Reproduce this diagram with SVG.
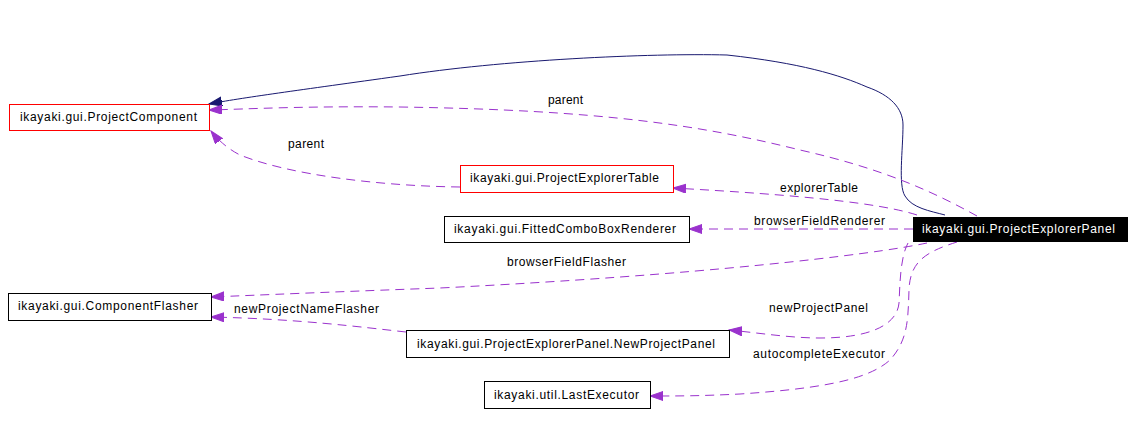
<svg xmlns="http://www.w3.org/2000/svg" width="1135" height="426" viewBox="0 0 1135 426">
<style>
text{font-family:"Liberation Sans",Arial,sans-serif;font-size:12px;fill:#000}
.box{fill:#fff;stroke:#000;stroke-width:1}
.red{stroke:#ff0000}
.dep{fill:none;stroke:#9a32cd;stroke-width:1;stroke-dasharray:9,6;marker-end:url(#pa)}
.inh{fill:none;stroke:#191970;stroke-width:1;marker-end:url(#na)}
</style>
<defs>
<marker id="pa" markerUnits="userSpaceOnUse" markerWidth="14" markerHeight="10" refX="13" refY="4.5" orient="auto"><path d="M0,0 L13,4.5 L0,9 z" fill="#9a32cd" stroke="#9a32cd"/></marker>
<marker id="na" markerUnits="userSpaceOnUse" markerWidth="14" markerHeight="10" refX="13" refY="4.5" orient="auto"><path d="M0,0 L13,4.5 L0,9 z" fill="#191970" stroke="#191970"/></marker>
</defs>
<rect width="1135" height="426" fill="#fff"/>
<g id="edges">
<path class="inh" d="M945,215 C930,211 912,208 905,196 C898,185 903,150 903,125 C903,108 890,95 867,87 C840,75 800,63 727,55 C650,53 500,60 400,76 C300,90 240,98 209,104"/>
<path class="dep" d="M977,216 C930,190 880,168 800,150 C700,125 600,110 400,107 C300,106 250,109 209,110"/>
<path class="dep" d="M460,187 C380,186 290,175 240,155 C228,149 218,140 211,131"/>
<path class="dep" d="M917,215 C880,203 800,195 673,188"/>
<path class="dep" d="M913,229 L689,229"/>
<path class="dep" d="M927,243 C870,255 700,275 440,288 C330,292 260,295 211,297"/>
<path class="dep" d="M406,332 C360,327 300,319 211,317"/>
<path class="dep" d="M908,243 C900,258 900,285 899,303 C897,325 870,338 820,338 C790,338 760,333 729,330"/>
<path class="dep" d="M957,242 C925,252 910,262 909,290 C908,320 908,340 890,360 C870,378 830,388 740,394 C700,396 680,396 650,396"/>
<text x="548" y="104" textLength="35">parent</text>
<text x="288" y="148" textLength="36">parent</text>
<text x="780" y="192" textLength="78">explorerTable</text>
<text x="754" y="225" textLength="131">browserFieldRenderer</text>
<text x="507" y="266" textLength="119">browserFieldFlasher</text>
<text x="234" y="313" textLength="145">newProjectNameFlasher</text>
<text x="769" y="312" textLength="99">newProjectPanel</text>
<text x="753" y="358" textLength="132">autocompleteExecutor</text>
</g>
<g id="ProjectComponent"><rect class="box red" x="9.5" y="104.5" width="200" height="26"/><text x="20" y="121" textLength="177">ikayaki.gui.ProjectComponent</text></g>
<g id="ProjectExplorerTable"><rect class="box red" x="460.5" y="165.5" width="213" height="27"/><text x="470" y="182" textLength="189">ikayaki.gui.ProjectExplorerTable</text></g>
<g id="FittedComboBoxRenderer"><rect class="box" x="444.5" y="216.5" width="245" height="26"/><text x="454" y="233" textLength="222">ikayaki.gui.FittedComboBoxRenderer</text></g>
<g id="ProjectExplorerPanel"><rect x="913" y="217" width="215" height="25" fill="#000"/><text x="922" y="233" textLength="193" style="fill:#fff">ikayaki.gui.ProjectExplorerPanel</text></g>
<g id="ComponentFlasher"><rect class="box" x="8.5" y="293.5" width="203" height="27"/><text x="18" y="310" textLength="180">ikayaki.gui.ComponentFlasher</text></g>
<g id="NewProjectPanel"><rect class="box" x="406.5" y="330.5" width="323" height="27"/><text x="417" y="348" textLength="298">ikayaki.gui.ProjectExplorerPanel.NewProjectPanel</text></g>
<g id="LastExecutor"><rect class="box" x="484.5" y="381.5" width="166" height="27"/><text x="494" y="399" textLength="145">ikayaki.util.LastExecutor</text></g>
</svg>
